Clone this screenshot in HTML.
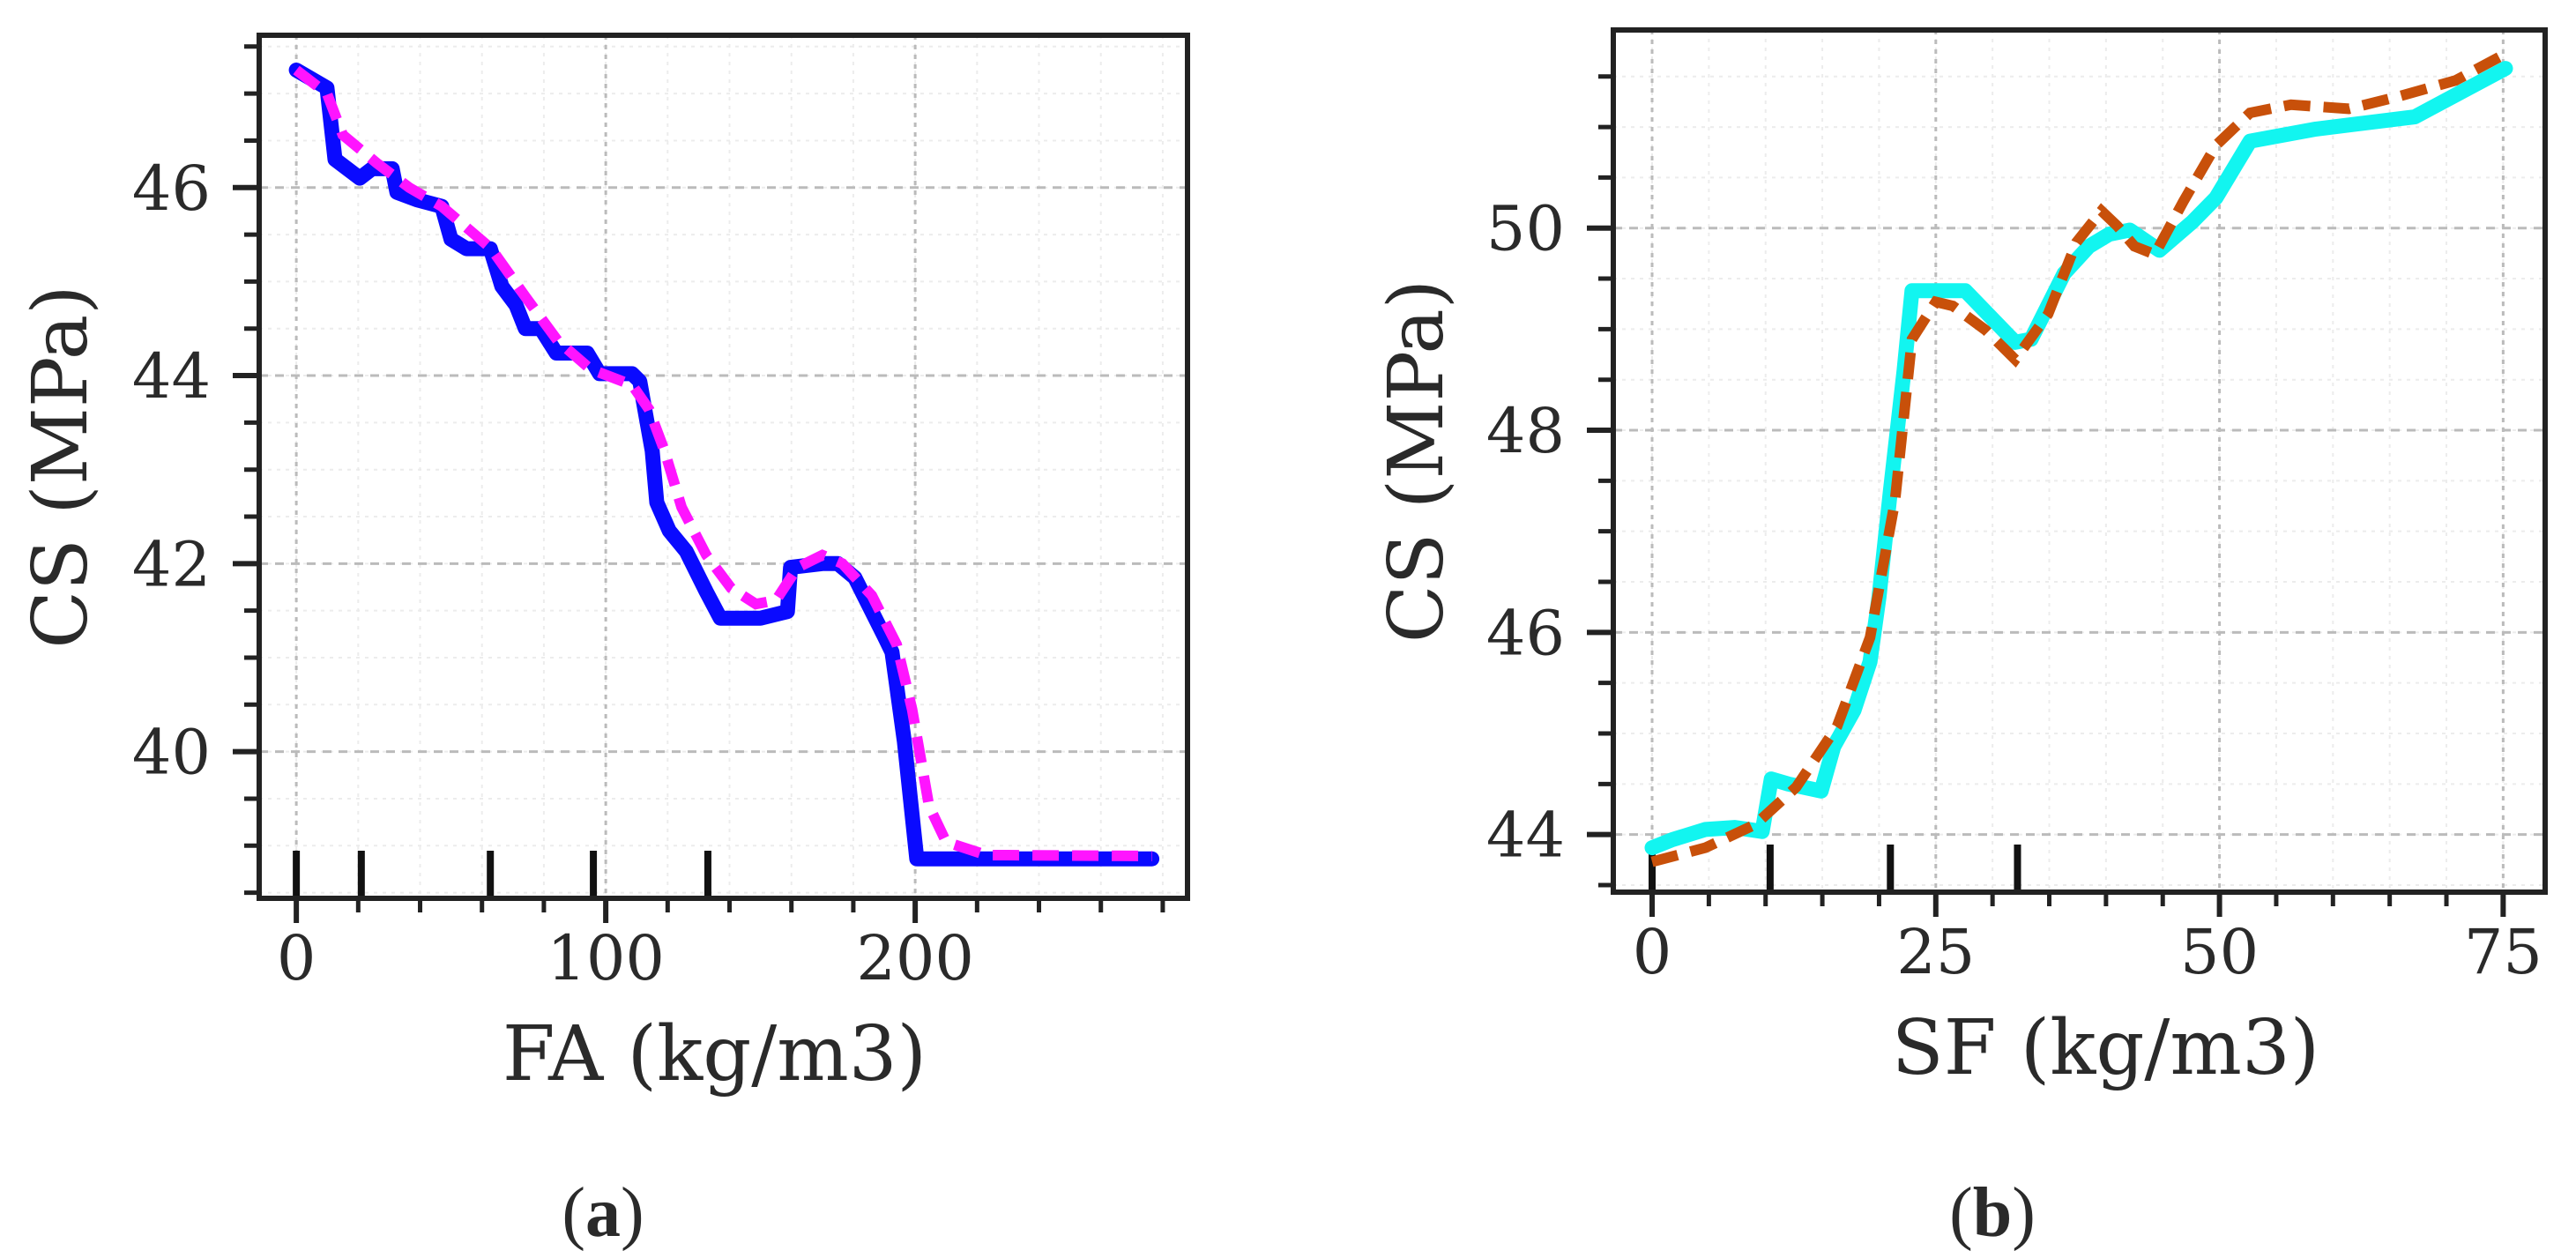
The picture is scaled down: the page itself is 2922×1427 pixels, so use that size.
<!DOCTYPE html>
<html><head><meta charset="utf-8"><style>
html,body{margin:0;padding:0;background:#fff;}
svg{display:block;}
text{font-family:"DejaVu Serif","Liberation Serif",serif;fill:#2a2a2a;}
</style></head><body>
<svg id="fig" width="2922" height="1427" viewBox="0 0 2922 1427" xmlns="http://www.w3.org/2000/svg">
<g id="pa"></g>
<g id="pb"></g>
<text x="684" y="1402" text-anchor="middle" font-size="80" style="font-family:'Liberation Serif',serif">(<tspan font-weight="bold">a</tspan>)</text>
<text x="2260" y="1402" text-anchor="middle" font-size="80" style="font-family:'Liberation Serif',serif">(<tspan font-weight="bold">b</tspan>)</text>
</svg>
<script>
// Panel (a) data
const faX = [0,9.9,12.5,20.5,24.5,31,32.5,39,47,50,55,62.7,66.4,71,74,79,84,91,94,98,108.5,111,115,116.5,120.5,126,132.5,137,150,158.7,159.7,170,175,180.5,190,192.5,196.5,200.5,220.5,276.5];
const faActual = [47.25,47.06,46.3,46.1,46.2,46.2,45.95,45.87,45.8,45.45,45.35,45.35,44.95,44.75,44.5,44.5,44.24,44.24,44.24,44.02,44.02,43.94,43.2,42.65,42.35,42.13,41.7,41.42,41.42,41.49,41.96,42.0,42.0,41.85,41.23,41.06,40.11,38.86,38.86,38.86];
const faPredX = [0,9.9,15,26,36.5,47,63,74,84.5,95,108.5,114,119,124.5,132.5,140.5,148.5,155,162,170,176.5,186,194,199,204.5,210,223,276.5];
const faPred = [47.25,47.0,46.56,46.26,46.0,45.8,45.35,44.84,44.37,44.07,43.9,43.64,43.2,42.6,42.09,41.74,41.57,41.61,41.96,42.09,42.0,41.66,41.14,40.45,39.42,39.04,38.9,38.89];
const faRug = [0,21,62.7,96,133];
const faXTicks = [0,100,200];
const faYTicks = [40,42,44,46];
// Panel (b) data
const sfX = [0,1.8,4.7,7.3,9.7,10.5,12,14.9,16,17.8,19.2,20,21,22.2,22.9,27.6,32,33.4,36.3,38.5,40.3,42.1,44.7,47.6,49.7,52.7,58.5,67.2,75.2];
const sfActual = [43.87,43.95,44.05,44.07,44.03,44.55,44.5,44.43,44.87,45.23,45.71,46.35,47.4,48.59,49.38,49.38,48.87,48.9,49.55,49.82,49.94,49.98,49.78,50.06,50.3,50.86,50.98,51.1,51.58];
const sfPredX = [0,4.7,9.1,12.7,16.3,19.2,21.4,22.9,25,26.5,29.4,32,34.9,37.4,39.6,41,42.5,44.3,46.8,49.7,52.7,56.3,61.4,65.7,70.8,74.8];
const sfPred = [43.73,43.87,44.1,44.47,45.07,45.95,47.3,48.9,49.27,49.23,48.99,48.7,49.15,49.86,50.17,50.02,49.82,49.74,50.26,50.82,51.14,51.22,51.18,51.3,51.46,51.7];
const sfRug = [0,10.4,21,32.2];
const sfXTicks = [0,25,50,75];
const sfYTicks = [44,46,48,50];

const NS="http://www.w3.org/2000/svg";
function mk(parent,tag,attrs){const e=document.createElementNS(NS,tag);for(const k in attrs)e.setAttribute(k,attrs[k]);parent.appendChild(e);return e;}

function panel(g,cfg){
  const {L,R,T,B,x0,x1,y0,y1}=cfg;
  const sx=v=>L+(v-x0)/(x1-x0)*(R-L);
  const sy=v=>B-(v-y0)/(y1-y0)*(B-T);
  for(let v=Math.ceil(x0/cfg.xMinor)*cfg.xMinor; v<=x1; v+=cfg.xMinor){
    const l=mk(g,'line',{x1:sx(v),x2:sx(v),y1:T,y2:B,stroke:'#ececec','stroke-width':2,'stroke-dasharray':'4 6'});
    
    
    const t=mk(g,'line',{x1:sx(v),x2:sx(v),y1:B,y2:B+16,stroke:'#222','stroke-width':5});
    
    
  }
  for(let v=Math.ceil(y0/0.5)*0.5; v<=y1; v+=0.5){
    const l=mk(g,'line',{x1:L,x2:R,y1:sy(v),y2:sy(v),stroke:'#ececec','stroke-width':2,'stroke-dasharray':'4 6'});
    
    
    const t=mk(g,'line',{x1:L-17,x2:L,y1:sy(v),y2:sy(v),stroke:'#222','stroke-width':5});
    
    
  }
  cfg.xt.forEach(v=>{
    const l=mk(g,'line',{x1:sx(v),x2:sx(v),y1:T,y2:B,stroke:'#bbb','stroke-width':3,'stroke-dasharray':'5 6'});
    
    
    const t=mk(g,'line',{x1:sx(v),x2:sx(v),y1:B,y2:B+28,stroke:'#222','stroke-width':6});
    
    
    const tx=mk(g,'text',{x:sx(v),y:B+92,'text-anchor':'middle','font-size':70});
    tx.textContent=v;
    
    
  });
  cfg.yt.forEach(v=>{
    const l=mk(g,'line',{x1:L,x2:R,y1:sy(v),y2:sy(v),stroke:'#bbb','stroke-width':3,'stroke-dasharray':'10 8'});
    
    
    const t=mk(g,'line',{x1:L-30,x2:L,y1:sy(v),y2:sy(v),stroke:'#222','stroke-width':6});
    
    
    const tx=mk(g,'text',{x:L-55,y:sy(v)+25,'text-anchor':'end','font-size':70});
    tx.textContent=v;
    
    
  });
  cfg.rug.forEach(v=>{
    const r=mk(g,'line',{x1:sx(v),x2:sx(v),y1:B-54,y2:B,stroke:'#111','stroke-width':8});
    
    
  });
  const pts=(xs,ys)=>xs.map((x,i)=>sx(x).toFixed(1)+','+sy(ys[i]).toFixed(1)).join(' ');
  const a=mk(g,'polyline',{points:pts(cfg.ax,cfg.ay),fill:'none',stroke:cfg.ac,'stroke-width':17,'stroke-linejoin':'round','stroke-linecap':'round'});
  
  
  const p=mk(g,'polyline',{points:pts(cfg.px,cfg.py),fill:'none',stroke:cfg.pc,'stroke-width':12,'stroke-dasharray':'30 15'});
  
  
  const fr=mk(g,'rect',{x:L,y:T,width:R-L,height:B-T,fill:'none',stroke:'#222','stroke-width':6});
  
  
  const xl=mk(g,'text',{x:(L+R)/2+cfg.xlOff,y:B+206,'text-anchor':'middle','font-size':86});
  xl.textContent=cfg.xlabel;
  
  
  const yl=mk(g,'text',{x:0,y:0,'text-anchor':'middle','font-size':86,transform:`translate(${cfg.ylx},${(T+B)/2}) rotate(-90)`});
  yl.textContent='CS (MPa)';
  
  
}

panel(document.getElementById('pa'),{L:294,R:1347,T:40,B:1019,x0:-12,x1:288,y0:38.44,y1:47.62,xMinor:20,
  xt:faXTicks,yt:faYTicks,rug:faRug,ax:faX,ay:faActual,px:faPredX,py:faPred,ac:'#0a0aff',pc:'#ff14ff',
  xlabel:'FA (kg/m3)',xlOff:-10,ylx:98});
panel(document.getElementById('pb'),{L:1830,R:2887,T:34,B:1012,x0:-3.42,x1:78.7,y0:43.43,y1:51.96,xMinor:5,
  xt:sfXTicks,yt:sfYTicks,rug:sfRug,ax:sfX,ay:sfActual,px:sfPredX,py:sfPred,ac:'#12f5f0',pc:'#c8500a',
  xlabel:'SF (kg/m3)',xlOff:30,ylx:1636});
</script>
</body></html>
